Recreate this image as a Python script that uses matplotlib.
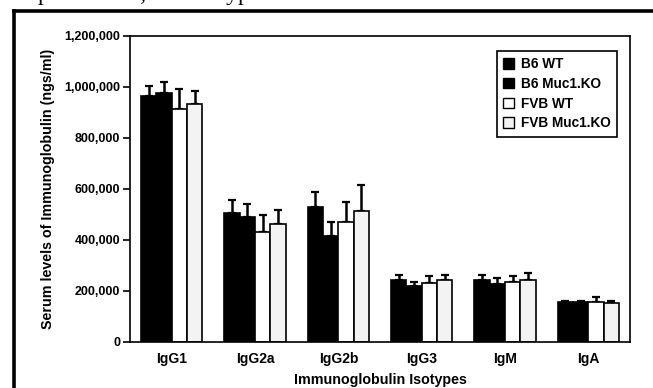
import numpy as np
import matplotlib
matplotlib.use("Agg")
import matplotlib.pyplot as plt
from matplotlib.lines import Line2D
from matplotlib.patches import Patch
from matplotlib.ticker import FuncFormatter

# Serum immunoglobulin levels (ngs/ml)
isotypes = ['IgG1', 'IgG2a', 'IgG2b', 'IgG3', 'IgM', 'IgA']
groups = ['B6 WT', 'B6 Muc1.KO', 'FVB WT', 'FVB Muc1.KO']

b6_wt = [963000, 507000, 528000, 244000, 244000, 155000]
b6_wt_err = [40000, 51000, 59000, 17000, 18000, 6000]
b6_ko = [975000, 488000, 414000, 221000, 228000, 156000]
b6_ko_err = [44000, 51000, 58000, 16000, 21000, 6000]
fvb_wt = [912000, 430000, 469000, 231000, 237000, 156000]
fvb_wt_err = [78000, 67000, 79000, 29000, 23000, 20000]
fvb_ko = [932000, 464000, 513000, 244000, 244000, 152000]
fvb_ko_err = [51000, 55000, 104000, 18000, 26000, 9000]

yticks = [0, 200000, 400000, 600000, 800000, 1000000, 1200000]

plt.rcParams['font.family'] = ['Liberation Sans', 'DejaVu Sans']

fig = plt.figure(figsize=(6.53, 3.88), dpi=100)
ax = fig.add_axes([0.199, 0.1186, 0.766, 0.789])

x = np.arange(len(isotypes))
w = 0.184
series = [
    (b6_wt, b6_wt_err, 'black'),
    (b6_ko, b6_ko_err, 'black'),
    (fvb_wt, fvb_wt_err, 'white'),
    (fvb_ko, fvb_ko_err, '#f3f3f3'),
]
for i, (vals, errs, fc) in enumerate(series):
    pos = x + (i - 1.5) * w
    ax.bar(pos, vals, width=w, color=fc, edgecolor='black', linewidth=1.2, zorder=2)
    ax.errorbar(pos, vals, yerr=[np.zeros(len(errs)), errs], fmt='none',
                ecolor='black', elinewidth=1.8, capsize=3.2, capthick=1.6, zorder=1)

ax.set_xlim(-0.5, len(isotypes) - 0.5)
ax.set_ylim(0, 1200000)
ax.set_yticks(yticks)
ax.yaxis.set_major_formatter(FuncFormatter(lambda v, p: f"{int(v):,}"))
ax.set_xticks(x)
ax.set_xticklabels(isotypes)
ax.tick_params(axis='x', length=0, pad=7, labelsize=10)
ax.tick_params(axis='y', direction='out', length=5, width=1.2, labelsize=9, pad=2)
for lab in ax.get_xticklabels() + ax.get_yticklabels():
    lab.set_fontweight('bold')
for s in ax.spines.values():
    s.set_linewidth(1.2)

ax.set_xlabel('Immunoglobulin Isotypes', fontsize=10.3, fontweight='bold', labelpad=5)
ax.set_ylabel('Serum levels of Immunoglobulin (ngs/ml)', fontsize=10.3,
              fontweight='bold', labelpad=7)

handles = [Patch(facecolor=fc, edgecolor='black', linewidth=1.0) for _, _, fc in series]
leg = ax.legend(handles, groups, loc='upper right', bbox_to_anchor=(0.974, 0.95),
                frameon=True, fancybox=False, framealpha=1, edgecolor='black',
                prop={'size': 9.8, 'weight': 'bold'}, handlelength=0.8,
                handleheight=0.8, handletextpad=0.55, labelspacing=0.42,
                borderpad=0.45, borderaxespad=0)
leg.get_frame().set_linewidth(1.2)

# outer frame of the scanned figure
fig.add_artist(Line2D([0.021, 1.0], [0.971, 0.971], transform=fig.transFigure,
                      color='black', linewidth=2.6))
fig.add_artist(Line2D([0.021, 0.021], [0.0, 0.971], transform=fig.transFigure,
                      color='black', linewidth=2.6))

# descenders of the page text above the figure (line is cut by the scan)
fig.text(0.058, 1.0, 'production, and isotype distribution were',
         fontsize=17, family='Liberation Serif', va='baseline', ha='left')

fig.savefig('out.png', dpi=100)
